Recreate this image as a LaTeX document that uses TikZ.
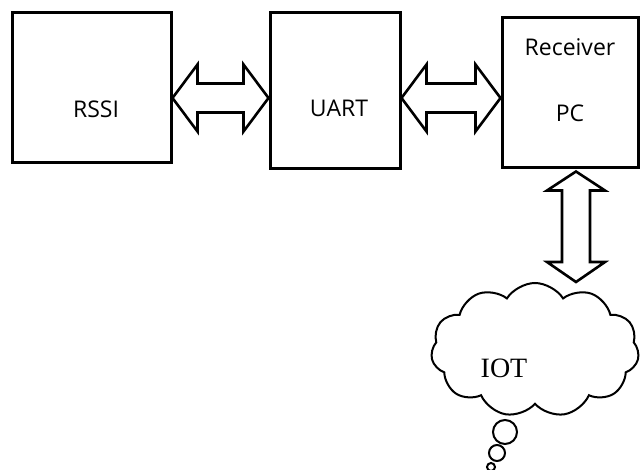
\documentclass[tikz,border=0pt]{standalone}
\usepackage{fontspec}
\setmainfont{Liberation Serif}
\newfontfamily\boxfont{Open Sans}
\usetikzlibrary{calc,shapes.symbols}
\tikzset{
  blockbox/.style={draw, line width=3pt, rectangle, inner sep=0pt},
  blocktext/.style={font=\boxfont\fontsize{23}{27}\selectfont, inner sep=0pt},
  fatarrow/.style={draw, line width=2.6pt, line join=miter, fill=white},
  bubble/.style={draw, line width=2pt},
}
\newcommand\hdbl[2]{%
  \draw[fatarrow] (#1) -- ++(25,-33.5) -- ++(0,19) -- ($(#2)+(-25,-14.5)$) -- ++(0,-19) -- (#2)
    -- ++(-25,33.5) -- ++(0,-19) -- ($(#1)+(25,14.5)$) -- ++(0,19) -- cycle;}
\newcommand\vdbl[2]{%
  \draw[fatarrow] (#1) -- ++(29,19) -- ++(-15,0) -- ($(#2)+(14,-20)$) -- ++(15,0) -- (#2)
    -- ++(-29,-20) -- ++(15,0) -- ($(#1)+(-14,19)$) -- ++(-15,0) -- cycle;}
\begin{document}
\begin{tikzpicture}[x=1pt,y=-1pt]
\useasboundingbox (0,0) rectangle (641,470);
% boxes
\node[blockbox, minimum width=159pt, minimum height=150pt] (rssi) at (91.5,88) {};
\node[blockbox, minimum width=130pt, minimum height=156pt] (uart) at (335,91) {};
\node[blockbox, minimum width=136pt, minimum height=150pt] (pc) at (570,93) {};
\node[blocktext] (rssiT) at (96,109) {RSSI};
\node[blocktext] (uartT) at (339,108) {UART};
\node[blocktext] (recT) at (570,47) {Receiver};
\node[blocktext] (pcT) at (570,113) {PC};
% cloud
\node[cloud, draw, line width=2pt, cloud puffs=11, cloud puff arc=115, aspect=1.55,
      minimum width=208pt, minimum height=134pt, inner sep=0pt] (cloud) at (535,350) {};
\node[font=\fontsize{28}{32}\selectfont, inner sep=0pt] (iot) at (504,368) {IOT};
% thought bubbles
\node[bubble, circle, minimum size=24pt, inner sep=0pt] (b1) at (505,432) {};
\node[bubble, circle, minimum size=16pt, inner sep=0pt] (b2) at (497,453) {};
\node[bubble, circle, minimum size=8pt, inner sep=0pt] (b3) at (491,467) {};
% connectors
\coordinate (ya) at (0,98);
\coordinate (a1) at (rssi.east |- ya);
\coordinate (a2) at (uart.west |- ya);
\coordinate (a3) at (uart.east |- ya);
\coordinate (a4) at (pc.west |- ya);
\hdbl{a1}{a2}
\hdbl{a3}{a4}
\coordinate (v1) at ($(pc.south)+(6,2)$);
\coordinate (v2) at (v1 |- cloud.north);
\vdbl{v1}{v2}
\end{tikzpicture}
\end{document}
